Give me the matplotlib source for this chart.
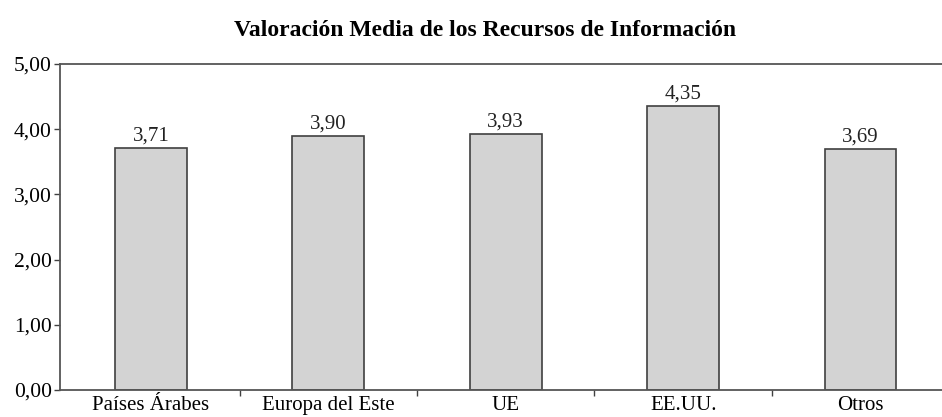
import matplotlib.pyplot as plt
import numpy as np

# Datos
regiones = ['Países Árabes', 'Europa del Este', 'UE', 'EE.UU.', 'Otros']
valoracion = [3.71, 3.90, 3.93, 4.35, 3.69]
ticks_y = [0, 1, 2, 3, 4, 5]

plt.rcParams['font.family'] = ['Liberation Serif', 'DejaVu Serif']

fig = plt.figure(figsize=(9.42, 4.17), dpi=100)
ax = fig.add_axes([60/942, 1 - 390/417, 882/942, 326/417])

x = np.arange(len(regiones))
barras = ax.bar(x, valoracion, width=0.405, color='#d3d3d3',
                edgecolor='#404040', linewidth=1.2)

for b, v in zip(barras, valoracion):
    ax.text(b.get_x() + b.get_width() / 2, v + 0.04, f'{v:.2f}'.replace('.', ','),
            ha='center', va='bottom', fontsize=15, color='#222222')

# el eje se corta un poco por la derecha, como en el original
ax.set_xlim(-0.513, 4.459)
ax.set_ylim(0, 5)
ax.set_yticks(ticks_y)
ax.set_yticklabels([f'{t:.2f}'.replace('.', ',') for t in ticks_y], fontsize=15.5)
ax.set_xticks(x)
ax.set_xticklabels(regiones, fontsize=15)
ax.set_xticks(x[:-1] + 0.5, minor=True)
ax.tick_params(axis='x', which='major', length=0, pad=4)
ax.tick_params(axis='x', which='minor', length=4, color='#404040', width=1)
ax.tick_params(axis='y', length=4, color='#404040', width=1, pad=2)

for s in ['left', 'bottom', 'top']:
    ax.spines[s].set_color('#555555')
    ax.spines[s].set_linewidth(1.3)
ax.spines['right'].set_visible(False)

fig.suptitle('Valoración Media de los Recursos de Información',
             fontsize=17, fontweight='bold', x=485/942, y=1 - 30/417, va='center')

plt.savefig('out.png', dpi=100)
plt.close()
